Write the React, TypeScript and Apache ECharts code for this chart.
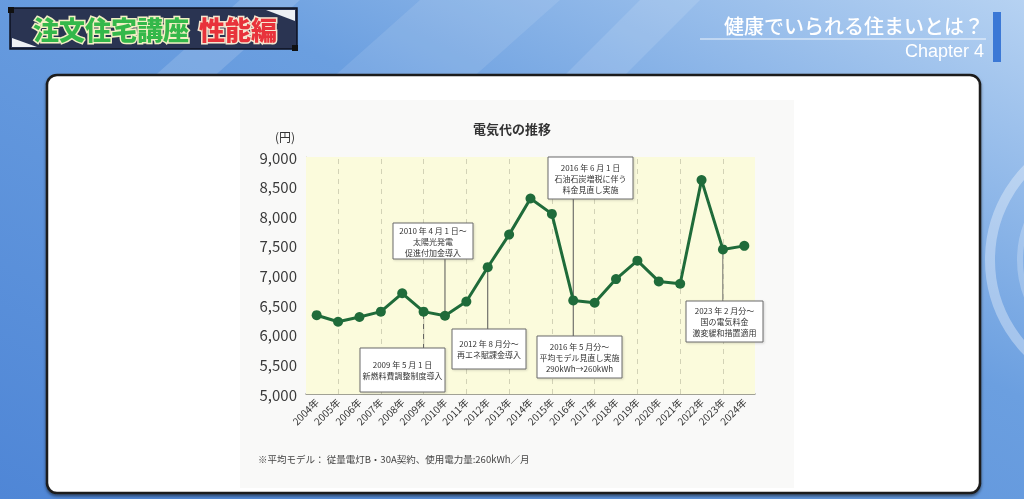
import React, { useEffect, useRef } from 'react';
import * as echarts from 'echarts';

const years = ['2004年', '2005年', '2006年', '2007年', '2008年', '2009年', '2010年', '2011年', '2012年', '2013年', '2014年', '2015年', '2016年', '2017年', '2018年', '2019年', '2020年', '2021年', '2022年', '2023年', '2024年'];
const prices = [6330, 6220, 6300, 6390, 6700, 6390, 6320, 6560, 7140, 7690, 8300, 8040, 6580, 6540, 6940, 7250, 6900, 6860, 8610, 7440, 7500];
const dashedYears = years.filter((_, i) => i % 2 === 1);

const chartTitle = '電気代の推移';
const unitLabel = '(円)';
const footnote = '※平均モデル： 従量電灯B・30A契約、使用電力量:260kWh／月';

const noteYears = ['2009年', '2010年', '2012年', '2016年', '2016年', '2023年'];
const noteTexts = [
  ['2009 年 5 月 1 日', '新燃料費調整制度導入'],
  ['2010 年 4 月 1 日〜', '太陽光発電', '促進付加金導入'],
  ['2012 年 8 月分〜', '再エネ賦課金導入'],
  ['2016 年 6 月 1 日', '石油石炭増税に伴う', '料金見直し実施'],
  ['2016 年 5 月分〜', '平均モデル見直し実施', '290kWh→260kWh'],
  ['2023 年 2 月分〜', '国の電気料金', '激変緩和措置適用'],
];

// layout of annotation boxes (pixels)
const noteBoxes = [
  { x: 360, y: 348, w: 85, h: 44 },
  { x: 393, y: 223, w: 80, h: 36 },
  { x: 452, y: 329, w: 74, h: 40 },
  { x: 548, y: 157, w: 85, h: 42 },
  { x: 537, y: 336, w: 85, h: 42 },
  { x: 686, y: 301, w: 77, h: 41 },
];

const JP = '"Noto Sans CJK JP", "Noto Sans", sans-serif';
const GREEN = '#1f6b3a';

export default function App() {
  const ref = useRef<HTMLDivElement>(null);
  useEffect(() => {
    document.body.style.margin = '0';
    const chart = echarts.init(ref.current!, null, { renderer: 'svg' });
    chart.setOption({
      animation: false,
      backgroundColor: 'transparent',
      grid: {
        left: 306, right: 269, top: 157, bottom: 105,
        show: true, backgroundColor: '#fbfbdc', borderWidth: 0, z: 1,
      },
      xAxis: {
        type: 'category',
        data: years,
        boundaryGap: true,
        axisLine: { show: true, lineStyle: { color: '#8c8c84', width: 1.5 } },
        axisTick: { show: false },
        axisLabel: { rotate: 45, fontSize: 10, color: '#333', fontFamily: JP, margin: 6, interval: 0 },
        splitLine: { show: false },
      },
      yAxis: {
        type: 'value',
        min: 5000, max: 9000, interval: 500,
        axisLine: { show: true, lineStyle: { color: '#d2d2bc', width: 1 } },
        axisTick: { show: false },
        axisLabel: {
          fontSize: 15, color: '#3a3a3a', fontFamily: JP, margin: 9,
          formatter: (v: number) => v.toLocaleString('en-US'),
        },
        splitLine: { show: true, lineStyle: { color: '#e3e3c8', width: 1 } },
      },
      series: [
        {
          type: 'line',
          data: years.map(() => null),
          z: 1,
          silent: true,
          markLine: {
            silent: true,
            symbol: 'none',
            label: { show: false },
            lineStyle: { type: [5, 5], color: '#d2d2b6', width: 1 },
            data: dashedYears.map((y) => ({ xAxis: y })),
          },
        },
        {
          type: 'line',
          data: prices,
          z: 5,
          symbol: 'circle',
          symbolSize: 10,
          itemStyle: { color: GREEN },
          lineStyle: { color: GREEN, width: 3 },
        },
      ],
    });

    const bg: any[] = [
      {
        type: 'rect', z: -20, silent: true,
        shape: { x: 0, y: 0, width: 1024, height: 499 },
        style: {
          fill: new echarts.graphic.LinearGradient(0, 1, 1, 0, [
            { offset: 0, color: '#4f86d6' },
            { offset: 0.6, color: '#6b9fe0' },
            { offset: 1, color: '#b6d2f2' },
          ]),
        },
      },
      { type: 'polygon', z: -19, silent: true, shape: { points: [[150, 80], [240, 0], [300, 0], [210, 80]] }, style: { fill: 'rgba(255,255,255,0.14)' } },
      { type: 'polygon', z: -19, silent: true, shape: { points: [[330, 80], [420, 0], [560, 0], [470, 80]] }, style: { fill: 'rgba(255,255,255,0.10)' } },
      { type: 'polygon', z: -19, silent: true, shape: { points: [[560, 80], [640, 0], [700, 0], [620, 80]] }, style: { fill: 'rgba(255,255,255,0.12)' } },
      { type: 'circle', z: -19, silent: true, shape: { cx: 1120, cy: 260, r: 130 }, style: { fill: 'none', stroke: 'rgba(255,255,255,0.35)', lineWidth: 10 } },
      { type: 'circle', z: -19, silent: true, shape: { cx: 1120, cy: 260, r: 100 }, style: { fill: 'none', stroke: 'rgba(255,255,255,0.25)', lineWidth: 6 } },
      // header banner
      { type: 'rect', z: -15, silent: true, shape: { x: 10, y: 8, width: 287, height: 41 }, style: { fill: '#2a3452', stroke: '#0d1020', lineWidth: 1.5 } },
      { type: 'polygon', z: -14, silent: true, shape: { points: [[266, 10], [295, 10], [295, 21]] }, style: { fill: '#eef0f4' } },
      { type: 'polygon', z: -14, silent: true, shape: { points: [[12, 38], [37, 47], [12, 47]] }, style: { fill: '#eef0f4' } },
      { type: 'rect', z: -13, silent: true, shape: { x: 8, y: 7, width: 6, height: 6 }, style: { fill: '#111' } },
      { type: 'rect', z: -13, silent: true, shape: { x: 292, y: 45, width: 6, height: 6 }, style: { fill: '#111' } },
      {
        type: 'text', z: -12, silent: true, x: 33, y: 28,
        style: { text: '注文住宅講座', fill: '#34b84a', stroke: '#f2f0c4', lineWidth: 3, font: `900 26px ${JP}`, textVerticalAlign: 'middle', textAlign: 'left' },
      },
      {
        type: 'text', z: -12, silent: true, x: 199, y: 28,
        style: { text: '性能編', fill: '#e8333b', stroke: '#f6e6d0', lineWidth: 3, font: `900 26px ${JP}`, textVerticalAlign: 'middle', textAlign: 'left' },
      },
      // top right heading
      {
        type: 'text', z: -12, silent: true, x: 984, y: 25,
        style: { text: '健康でいられる住まいとは？', fill: '#ffffff', font: `500 20px ${JP}`, textAlign: 'right', textVerticalAlign: 'middle', shadowColor: 'rgba(0,0,0,0.35)', shadowBlur: 3, shadowOffsetX: 1, shadowOffsetY: 1 },
      },
      { type: 'line', z: -12, silent: true, shape: { x1: 700, y1: 39, x2: 986, y2: 39 }, style: { stroke: 'rgba(255,255,255,0.85)', lineWidth: 1 } },
      {
        type: 'text', z: -12, silent: true, x: 984, y: 51,
        style: { text: 'Chapter 4', fill: '#ffffff', font: `18px "Liberation Sans", Arial, sans-serif`, textAlign: 'right', textVerticalAlign: 'middle', shadowColor: 'rgba(0,0,0,0.3)', shadowBlur: 2, shadowOffsetX: 1, shadowOffsetY: 1 },
      },
      { type: 'rect', z: -12, silent: true, shape: { x: 993, y: 12, width: 8, height: 50 }, style: { fill: '#3b78d6' } },
      // white panel
      {
        type: 'rect', z: -10, silent: true,
        shape: { x: 47, y: 75, width: 933, height: 418, r: 10 },
        style: { fill: '#ffffff', stroke: '#1a1a1a', lineWidth: 2.5, shadowColor: 'rgba(0,0,0,0.5)', shadowBlur: 3, shadowOffsetY: 2 },
      },
      { type: 'rect', z: -9, silent: true, shape: { x: 240, y: 100, width: 554, height: 388 }, style: { fill: '#f9f9f8' } },
      {
        type: 'text', z: 10, silent: true, x: 512, y: 128,
        style: { text: chartTitle, fill: '#333', font: `bold 13px ${JP}`, textAlign: 'center', textVerticalAlign: 'middle' },
      },
      {
        type: 'text', z: 10, silent: true, x: 285, y: 136,
        style: { text: unitLabel, fill: '#333', font: `12px ${JP}`, textAlign: 'center', textVerticalAlign: 'middle' },
      },
      {
        type: 'text', z: 10, silent: true, x: 258, y: 459,
        style: { text: footnote, fill: '#444', font: `9.5px ${JP}`, textAlign: 'left', textVerticalAlign: 'middle' },
      },
    ];

    const ann: any[] = [];
    noteYears.forEach((yr, i) => {
      const idx = years.indexOf(yr);
      const [px, py] = chart.convertToPixel({ gridIndex: 0 }, [idx, prices[idx]]) as number[];
      const b = noteBoxes[i];
      const edge = b.y > py ? b.y : b.y + b.h;
      ann.push({
        type: 'line', z: 3, silent: true,
        shape: { x1: px, y1: py, x2: px, y2: edge },
        style: { stroke: '#555', lineWidth: 1 },
      });
      ann.push({
        type: 'rect', z: 8, silent: true,
        shape: { x: b.x, y: b.y, width: b.w, height: b.h },
        style: { fill: '#ffffff', stroke: '#6a6a6a', lineWidth: 1, shadowColor: 'rgba(0,0,0,0.15)', shadowBlur: 2, shadowOffsetX: 1, shadowOffsetY: 1 },
      });
      ann.push({
        type: 'text', z: 9, silent: true,
        x: b.x + b.w / 2, y: b.y + b.h / 2,
        style: {
          text: noteTexts[i].join('\n'), fill: '#333', font: `8px ${JP}`, lineHeight: 11,
          textAlign: 'center', textVerticalAlign: 'middle', align: 'center', verticalAlign: 'middle',
        },
      });
    });

    chart.setOption({ graphic: { elements: [...bg, ...ann] } });
    return () => chart.dispose();
  }, []);
  return <div ref={ref} style={{ position: 'fixed', left: 0, top: 0, width: 1024, height: 499 }} />;
}
